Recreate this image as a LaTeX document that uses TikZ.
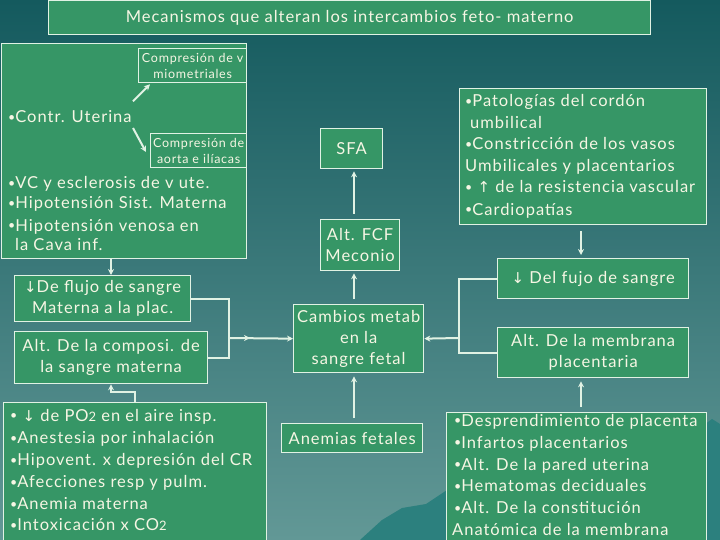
\documentclass[tikz,border=0pt]{standalone}
\usepackage{fontspec}
\usepackage{graphicx}
\setmainfont{Lato}[LetterSpace=6]
\newfontfamily\arrowfont{DejaVu Sans}
\usetikzlibrary{calc,arrows.meta}
\definecolor{bgtop}{RGB}{20,90,94}
\definecolor{bgbot}{RGB}{98,152,150}
\definecolor{boxfill}{RGB}{54,150,102}
\definecolor{edgecol}{RGB}{225,242,228}
\definecolor{txt}{RGB}{246,246,228}
\definecolor{mount}{RGB}{44,128,126}
\newcommand{\dnarr}{{\arrowfont\fontsize{15}{15}\selectfont ↓}}
\newcommand{\uparr}{{\arrowfont\fontsize{15}{15}\selectfont ↑}}
\newcommand{\bul}{{\raisebox{0.12ex}{\scalebox{0.75}{•}}}}
\begin{document}
\begin{tikzpicture}[x=1pt,y=-1pt,
  box/.style={draw=edgecol,line width=1.3pt,fill=boxfill,anchor=north west,inner sep=0pt,text=txt,align=center},
  bigtxt/.style={font=\fontsize{16.5}{21}\selectfont},
  smalltxt/.style={font=\fontsize{12.5}{16}\selectfont},
  lbl/.style={text=txt,anchor=west,inner sep=0pt,text height=12pt,text depth=4pt,font=\fontsize{16.5}{20}\selectfont},
  arr/.style={draw=edgecol,line width=2pt,-{Stealth[length=6pt,width=6pt]}},
  ln/.style={draw=edgecol,line width=2pt}]
\useasboundingbox (0,0) rectangle (720,540);
\clip (0,0) rectangle (720,540);
\shade[top color=bgtop,bottom color=bgbot] (0,0) rectangle (720,540);
\fill[mount] (360,540) -- (382,520) -- (402,508) -- (426,504) -- (450,488) -- (600,440) -- (700,428) -- (712,419) -- (720,424) -- (720,540) -- cycle;

% title
\node[box,minimum width=602pt,minimum height=34pt,font=\fontsize{16.5}{20}\selectfont] (title) at (48,0) {Mecanismos que alteran los intercambios feto- materno};

% left big box
\node[box,minimum width=245pt,minimum height=215pt] (big) at (1,43) {};
\node[box,minimum width=108pt,minimum height=34pt,smalltxt] (mio) at (138,48) {Compresión de v\\miometriales};
\node[box,minimum width=96pt,minimum height=34pt,smalltxt] (aorta) at (150,133) {Compresión de\\aorta e ilíacas};
\node[lbl] (contr) at (8,119) {\bul Contr. Uterina};
\node[lbl] (l1) at (8,185) {\bul VC y esclerosis de v ute.};
\node[lbl] (l2) at (8,205) {\bul Hipotensión Sist. Materna};
\node[lbl] (l3) at (8,227) {\bul Hipotensión venosa en};
\node[lbl] (l4) at (15,246) {la Cava inf.};

\node[box,minimum width=176pt,minimum height=46pt,bigtxt] (deflujo) at (14,275) {\dnarr De flujo de sangre\\Materna a la plac.};
\node[box,minimum width=193pt,minimum height=52pt,bigtxt] (composi) at (14,331) {Alt. De la composi. de\\la sangre materna};

% bottom left
\node[box,minimum width=263pt,minimum height=143pt] (blbox) at (3,402) {};
\node[lbl] (b1) at (10,417) {\bul\ \dnarr\ de PO{\fontsize{13}{13}\selectfont 2} en el aire insp.};
\node[lbl] (b2) at (10,439) {\bul Anestesia por inhalación};
\node[lbl] (b3) at (10,461) {\bul Hipovent. x depresión del CR};
\node[lbl] (b4) at (10,483) {\bul Afecciones resp y pulm.};
\node[lbl] (b5) at (10,505) {\bul Anemia materna};
\node[lbl] (b6) at (10,526) {\bul Intoxicación x CO{\fontsize{13}{13}\selectfont 2}};

% middle column
\node[box,minimum width=62pt,minimum height=40pt,bigtxt] (sfa) at (320,128) {SFA};
\node[box,minimum width=79pt,minimum height=51pt,bigtxt] (fcf) at (320,219) {Alt. FCF\\Meconio};
\node[box,minimum width=130pt,minimum height=68pt,bigtxt] (cambios) at (293,304) {Cambios metab\\en la\\sangre fetal};
\node[box,minimum width=141pt,minimum height=29pt,bigtxt] (anemias) at (281,423) {Anemias fetales};

% right column
\node[box,minimum width=247pt,minimum height=136pt] (rtop) at (459,88) {};
\node[lbl] (r1) at (465,103) {\bul Patologías del cordón};
\node[lbl] (r2) at (470,125) {umbilical};
\node[lbl] (r3) at (465,146) {\bul Constricción de los vasos};
\node[lbl] (r4) at (465,168) {Umbilicales y placentarios};
\node[lbl] (r5) at (465,189) {\bul\ \uparr\ de la resistencia vascular};
\node[lbl] (r6) at (465,211) {\bul Cardiopatías};

\node[box,minimum width=191pt,minimum height=40pt,bigtxt] (delfujo) at (497,258) {\dnarr\ Del fujo de sangre};
\node[box,minimum width=191pt,minimum height=50pt,bigtxt] (membrana) at (497,327) {Alt. De la membrana\\placentaria};

\node[box,minimum width=260pt,minimum height=133pt] (brbox) at (446,412) {};
\node[lbl] (s1) at (454,422) {\bul Desprendimiento de placenta};
\node[lbl] (s2) at (454,444) {\bul Infartos placentarios};
\node[lbl] (s3) at (454,466) {\bul Alt. De la pared uterina};
\node[lbl] (s4) at (454,487) {\bul Hematomas deciduales};
\node[lbl] (s5) at (454,509) {\bul Alt. De la constitución};
\node[lbl] (s6) at (452,531) {Anatómica de la membrana};

% helper coordinates
\coordinate (mx) at (354,0);
\coordinate (rx) at (581,0);
\coordinate (j1) at (229,338);
\coordinate (j2) at (459,338);

% connectors
\draw[arr] ($(mio.south west)+(-5,18)$) -- ($(mio.south west)+(12,1)$);
\draw[arr] ($(aorta.north west)+(-17,-5)$) -- ($(aorta.north west)+(-4,19)$);
\draw[arr] ([xshift=110pt]big.south west) -- ([xshift=97pt]deflujo.north west);
\draw[ln] (deflujo.east) -| (j1) |- (composi.east);
\draw[arr] (j1) -- ++(21,0);
\draw[arr] (j1) -- (cambios.west);
\draw[ln] (delfujo.west) -| (j2) |- (membrana.west);
\draw[arr] (j2) -- (cambios.east);
\draw[arr,shorten <=5pt,shorten >=2pt] (fcf.north -| mx) -- (sfa.south -| mx);
\draw[arr,shorten <=5pt,shorten >=2pt] (cambios.north -| mx) -- (fcf.south -| mx);
\draw[arr,shorten <=5pt,shorten >=3pt] (anemias.north -| mx) -- (cambios.south -| mx);
\draw[arr,shorten <=6pt,shorten >=3pt] (rtop.south -| rx) -- (delfujo.north -| rx);
\draw[arr,shorten <=5pt,shorten >=3pt] (brbox.north -| rx) -- (membrana.south -| rx);
\draw[arr] ([xshift=132pt]blbox.north west) -- ++(0,-10) -| ([xshift=97pt]composi.south west);
\end{tikzpicture}
\end{document}
